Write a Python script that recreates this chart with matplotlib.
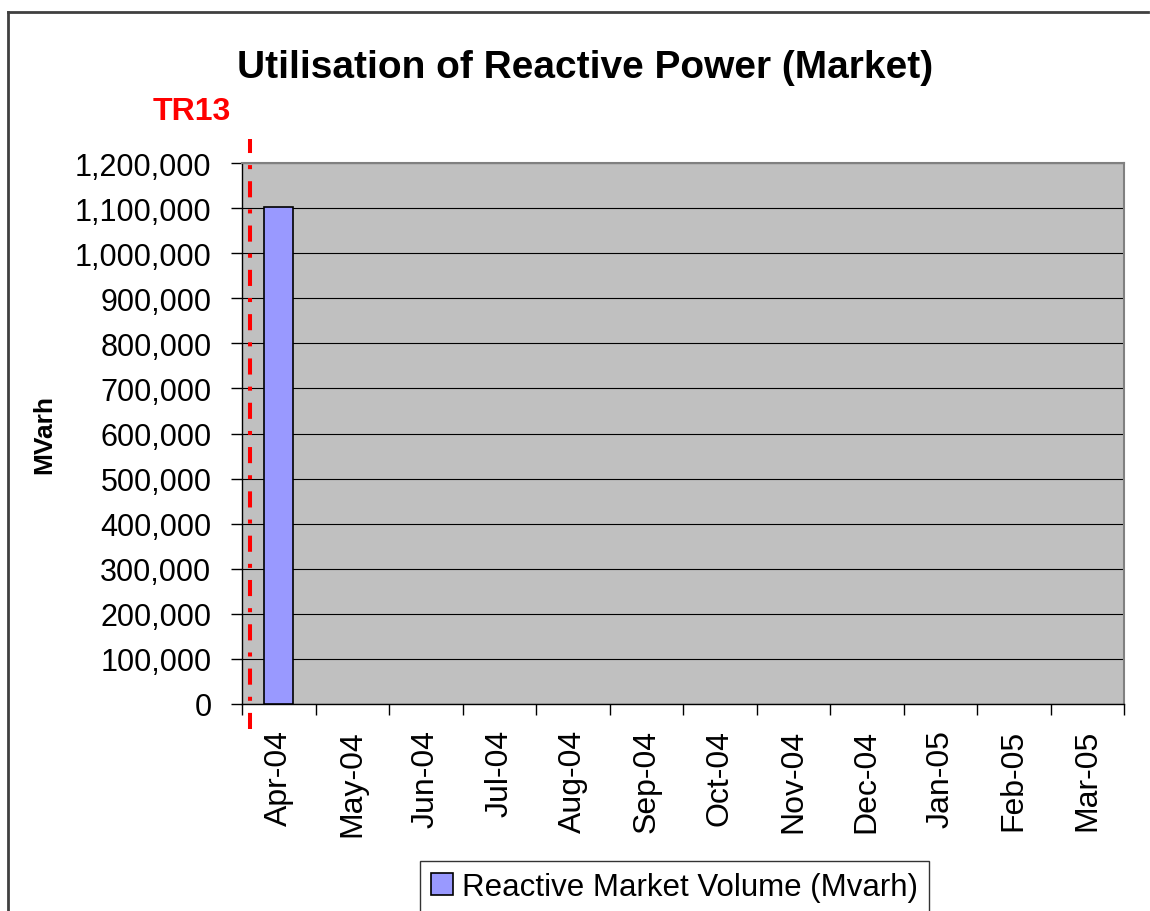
import matplotlib.pyplot as plt
import numpy as np
from matplotlib.lines import Line2D
from matplotlib.ticker import FuncFormatter

plt.rcParams['font.family'] = ['Liberation Sans', 'DejaVu Sans']

months = ["Apr-04", "May-04", "Jun-04", "Jul-04", "Aug-04", "Sep-04",
          "Oct-04", "Nov-04", "Dec-04", "Jan-05", "Feb-05", "Mar-05"]
volume = [1102000, 0, 0, 0, 0, 0, 0, 0, 0, 0, 0, 0]
marker_pos = -0.39  # TR13 marker, in category units
marker_label = "TR13"

W, H = 1150, 912
fig = plt.figure(figsize=(W / 100, H / 100), dpi=100)

# outer chart frame
fig.add_artist(Line2D([8 / W, 8 / W], [0, 1 - 13 / H], color="#404040", lw=2))
fig.add_artist(Line2D([8 / W, 1148 / W], [1 - 13 / H, 1 - 13 / H], color="#404040", lw=2))

ax = fig.add_axes([242 / W, (H - 705) / H, 882 / W, 541 / H])
ax.set_facecolor("#C0C0C0")

x = np.arange(len(months))
vals = np.array(volume, dtype=float)
mask = vals > 0
ax.bar(x[mask], vals[mask], width=0.4, color="#9999FF", edgecolor="black",
       linewidth=1.2, label="Reactive Market Volume (Mvarh)", zorder=3)

ax.set_xlim(-0.5, len(months) - 0.5)
ax.set_ylim(0, 1200000)
ax.set_yticks(np.arange(0, 1200001, 100000))
ax.yaxis.set_major_formatter(FuncFormatter(lambda v, p: f"{int(v):,}"))
ax.grid(axis="y", color="black", linewidth=0.8, zorder=1)
ax.set_axisbelow(True)

ax.set_xticks(np.arange(-0.5, len(months)), minor=False)
ax.set_xticklabels([])
ax.set_xticks(x, minor=True)
ax.set_xticklabels(months, minor=True, rotation=90, fontsize=23)
ax.tick_params(axis="x", which="major", length=8, width=1, direction="out")
ax.tick_params(axis="x", which="minor", length=0, pad=18)
ax.tick_params(axis="y", length=8, width=1, labelsize=22, pad=14)

for s in ["left", "bottom"]:
    ax.spines[s].set_color("black")
    ax.spines[s].set_linewidth(1)
for s in ["top", "right"]:
    ax.spines[s].set_color("#808080")
    ax.spines[s].set_linewidth(1.5)

ax.set_ylabel("MVarh", fontsize=19, fontweight="bold")
ax.yaxis.set_label_coords(-0.2105, 0.5)

fig.text(585 / W, 1 - 68 / H, "Utilisation of Reactive Power (Market)",
         fontsize=28, fontweight="bold", ha="center", va="center")

ax.axvline(marker_pos, ymin=-0.046, ymax=1.044, color="#FF0000", lw=2.9,
           linestyle=(0, (4, 3, 1, 3)), solid_capstyle="butt",
           clip_on=False, zorder=4)
ax.text(-0.5 - 50 / 73.5, 1 + (705 - 112 - 541) / 541, marker_label,
        transform=ax.get_xaxis_transform(), color="#FF0000", fontsize=23,
        fontweight="bold", ha="center", va="center")

leg = fig.legend(loc="upper left", bbox_to_anchor=(420 / W, 1 - 862 / H),
                 fontsize=22.5, frameon=True, fancybox=False, handlelength=0.7,
                 handleheight=0.7, handletextpad=0.3, borderpad=0.35,
                 borderaxespad=0)
leg.get_frame().set_edgecolor("black")
leg.get_frame().set_linewidth(1)

fig.savefig("out.png", dpi=100)
